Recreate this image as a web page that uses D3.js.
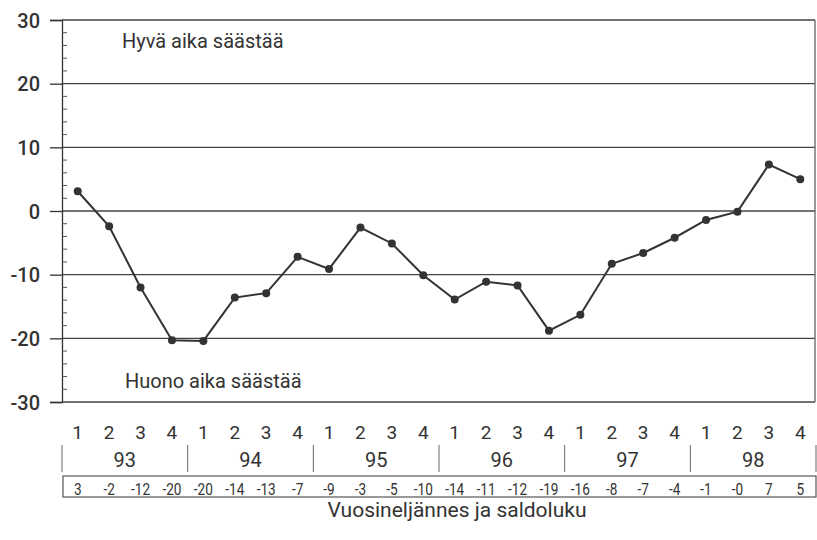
<!DOCTYPE html>
<html>
<head>
<meta charset="utf-8">
<script src="https://cdn.jsdelivr.net/npm/d3@7"></script>
<style>
  html, body { margin: 0; padding: 0; background: #fff; }
  svg { display: block; }
  text { font-family: Roboto, "Liberation Sans", sans-serif; fill: #333; }
</style>
</head>
<body>
<svg id="chart" width="817" height="540"></svg>
<script>
// Quarterly saving sentiment balance, 1993–1998
const years = ["93", "94", "95", "96", "97", "98"];
const quarterNames = ["1", "2", "3", "4"];
const saldo = [
   3.1,  -2.4, -12.0, -20.3,
 -20.4, -13.6, -12.9,  -7.2,
  -9.1,  -2.6,  -5.1, -10.1,
 -13.9, -11.1, -11.7, -18.8,
 -16.3,  -8.3,  -6.6,  -4.2,
  -1.4,  -0.1,   7.3,   5.0
];
const yTicks = [-30, -20, -10, 0, 10, 20, 30];
const topNote = "Hyvä aika säästää";
const bottomNote = "Huono aika säästää";
const xTitle = "Vuosineljännes ja saldoluku";

const periods = years.flatMap(y => quarterNames.map(q => y + "-" + q));
const data = periods.map((p, i) => ({ key: p, year: p.split("-")[0], q: p.split("-")[1], v: saldo[i] }));

const plotLeft = 62, plotRight = 816, plotTop = 20, plotBottom = 402;
const ink = "#333";

const svg = d3.select("#chart");

const x = d3.scaleBand().domain(periods).range([plotLeft, plotRight]);
const y = d3.scaleLinear().domain([-30, 30]).range([plotBottom, plotTop]);
const cx = k => x(k) + x.bandwidth() / 2;
// integers with a plain hyphen as the minus sign
const fmt = v => (v < 0 ? "-" : "") + Math.abs(Math.round(v));

// horizontal grid lines and frame
svg.append("g").selectAll("line").data(yTicks).join("line")
  .attr("x1", plotLeft).attr("x2", plotRight - 1)
  .attr("y1", d => y(d)).attr("y2", d => y(d))
  .attr("stroke", "#444").attr("stroke-width", 1.3);
svg.append("line").attr("x1", plotRight - 1).attr("x2", plotRight - 1)
  .attr("y1", y(30)).attr("y2", y(-30)).attr("stroke", "#555").attr("stroke-width", 1.2);

// left axis: major ticks outside, minor ticks inside every 2 units
const yAxis = d3.axisLeft(y).tickValues(yTicks).tickSize(12).tickPadding(10)
  .tickFormat(fmt);
const gy = svg.append("g").attr("transform", `translate(${plotLeft},0)`).call(yAxis);
gy.select(".domain").attr("stroke", ink).attr("stroke-width", 1.3);
gy.selectAll(".tick line").attr("stroke", ink).attr("stroke-width", 1.3);
gy.selectAll(".tick text")
  .attr("font-size", 20).attr("font-weight", 500)
  .attr("font-family", "Roboto, sans-serif").attr("fill", "#333")
  .attr("dy", "0.36em");

const minor = d3.range(-30, 31, 2).filter(v => v % 10 !== 0);
svg.append("g").selectAll("line").data(minor).join("line")
  .attr("x1", plotLeft).attr("x2", plotLeft + 5)
  .attr("y1", d => y(d)).attr("y2", d => y(d))
  .attr("stroke", "#555").attr("stroke-width", 1);

// notes inside the plot
svg.append("text").attr("x", 122).attr("y", 48).attr("font-size", 20).text(topNote);
svg.append("text").attr("x", 125).attr("y", 388).attr("font-size", 20).text(bottomNote);

// series line and markers
const line = d3.line().x(d => cx(d.key)).y(d => y(d.v));
svg.append("path").datum(data).attr("d", line)
  .attr("fill", "none").attr("stroke", ink).attr("stroke-width", 2);
svg.append("g").selectAll("circle").data(data).join("circle")
  .attr("cx", d => cx(d.key)).attr("cy", d => y(d.v)).attr("r", 4)
  .attr("fill", ink);

// table under the chart: quarter, year, balance
svg.append("g").selectAll("text").data(data).join("text")
  .attr("x", d => cx(d.key)).attr("y", 439)
  .attr("text-anchor", "middle").attr("font-size", 19)
  .text(d => d.q);

const yearBand = d3.scaleBand().domain(years).range([plotLeft, plotRight]);
svg.append("g").selectAll("line").data(years.concat(["end"])).join("line")
  .attr("x1", (d, i) => i < years.length ? yearBand(d) : plotRight)
  .attr("x2", (d, i) => i < years.length ? yearBand(d) : plotRight)
  .attr("y1", 445).attr("y2", 472)
  .attr("stroke", "#666").attr("stroke-width", 1);
svg.append("g").selectAll("text").data(years).join("text")
  .attr("x", d => yearBand(d) + yearBand.bandwidth() / 2).attr("y", 467)
  .attr("text-anchor", "middle").attr("font-size", 20)
  .text(d => d);

svg.append("rect").attr("x", plotLeft + 1).attr("y", 476)
  .attr("width", plotRight - plotLeft - 1).attr("height", 21)
  .attr("fill", "none").attr("stroke", "#555").attr("stroke-width", 1.2);
// balance figures in a narrowed face so neighbours keep apart
svg.append("g").selectAll("text").data(data).join("text")
  .attr("transform", d => `translate(${cx(d.key)},495) scale(0.8,1)`)
  .attr("text-anchor", "middle").attr("font-size", 17)
  .text(d => fmt(d.v));

svg.append("text").attr("x", 457).attr("y", 517)
  .attr("text-anchor", "middle").attr("font-size", 21)
  .text(xTitle);
</script>
</body>
</html>
